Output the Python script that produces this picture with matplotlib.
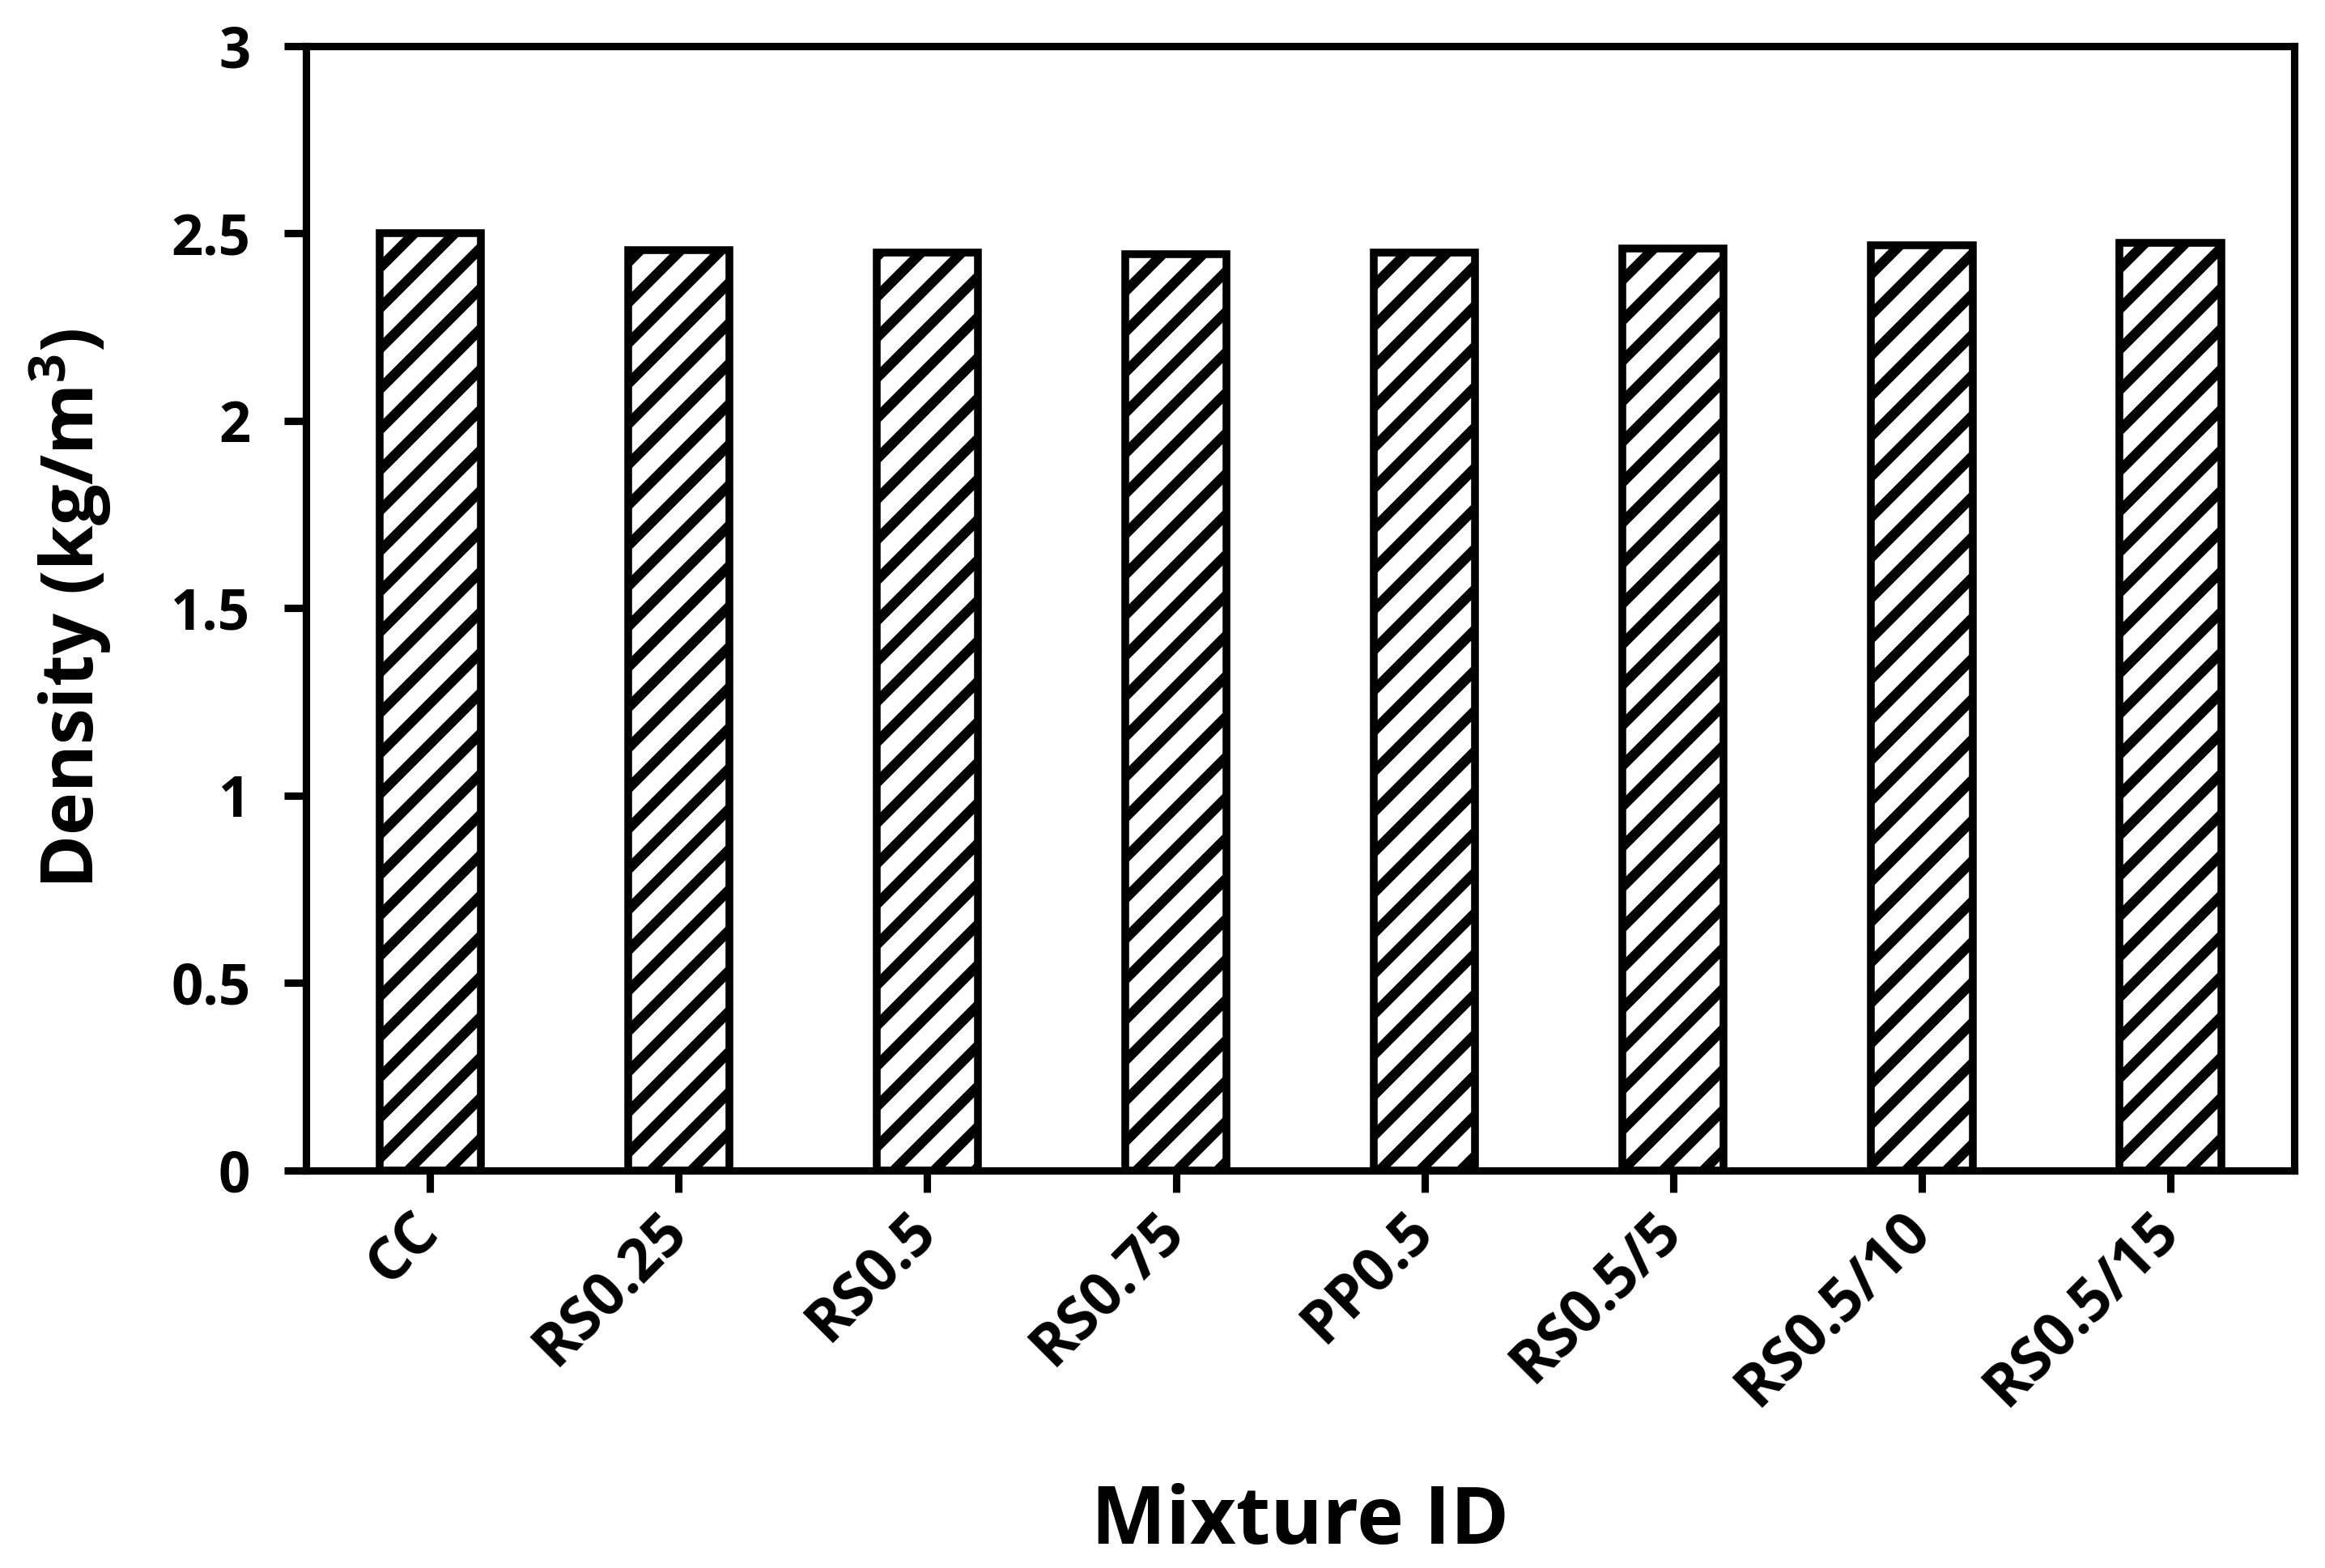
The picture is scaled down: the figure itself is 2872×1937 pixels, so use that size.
import matplotlib
matplotlib.use("Agg")
import matplotlib.pyplot as plt
import numpy as np

categories = ["CC", "RS0.25", "RS0.5", "RS0.75", "PP0.5", "RS0.5/5", "RS0.5/10", "RS0.5/15"]
density = [2.50, 2.455, 2.45, 2.445, 2.45, 2.46, 2.468, 2.474]
y_ticks = [0, 0.5, 1, 1.5, 2, 2.5, 3]
y_tick_labels = ["0", "0.5", "1", "1.5", "2", "2.5", "3"]

plt.rcParams['font.family'] = ['Open Sans', 'DejaVu Sans']
plt.rcParams['font.weight'] = 'bold'
plt.rcParams['mathtext.fontset'] = 'custom'
plt.rcParams['mathtext.rm'] = 'Open Sans:bold'
plt.rcParams['mathtext.default'] = 'rm'
plt.rcParams['hatch.linewidth'] = 3.0

fig = plt.figure(figsize=(2872/300, 1937/300), dpi=300)
ax = fig.add_axes([0.1316, 0.2535, 0.9868 - 0.1316, 0.9706 - 0.2535])

x = np.arange(len(categories))
ax.bar(x, density, width=0.41, color='white', edgecolor='black', linewidth=2.3, hatch='//')

ax.set_xlim(-0.5, len(categories) - 0.5)
ax.set_ylim(0, 3)
ax.set_yticks(y_ticks)
ax.set_yticklabels(y_tick_labels, fontsize=16.5, fontweight='bold')
ax.set_xticks(x)
ax.set_xticklabels(categories, fontsize=17.5, fontweight='bold', rotation=45,
                   ha='right', va='center', rotation_mode='anchor')

for s in ax.spines.values():
    s.set_linewidth(2.2)
ax.tick_params(axis='both', direction='out', length=6.5, width=2.2, pad=10)
ax.tick_params(axis='x', pad=9)

ax.set_ylabel(r'Density (kg/m$^{3}$)', fontsize=21.5, fontweight='bold')
ax.yaxis.set_label_coords(-0.097, 0.5)
ax.set_xlabel('Mixture ID', fontsize=23.5, fontweight='bold')
ax.xaxis.set_label_coords(0.5, -0.278)

fig.savefig('out.png', dpi=300)
